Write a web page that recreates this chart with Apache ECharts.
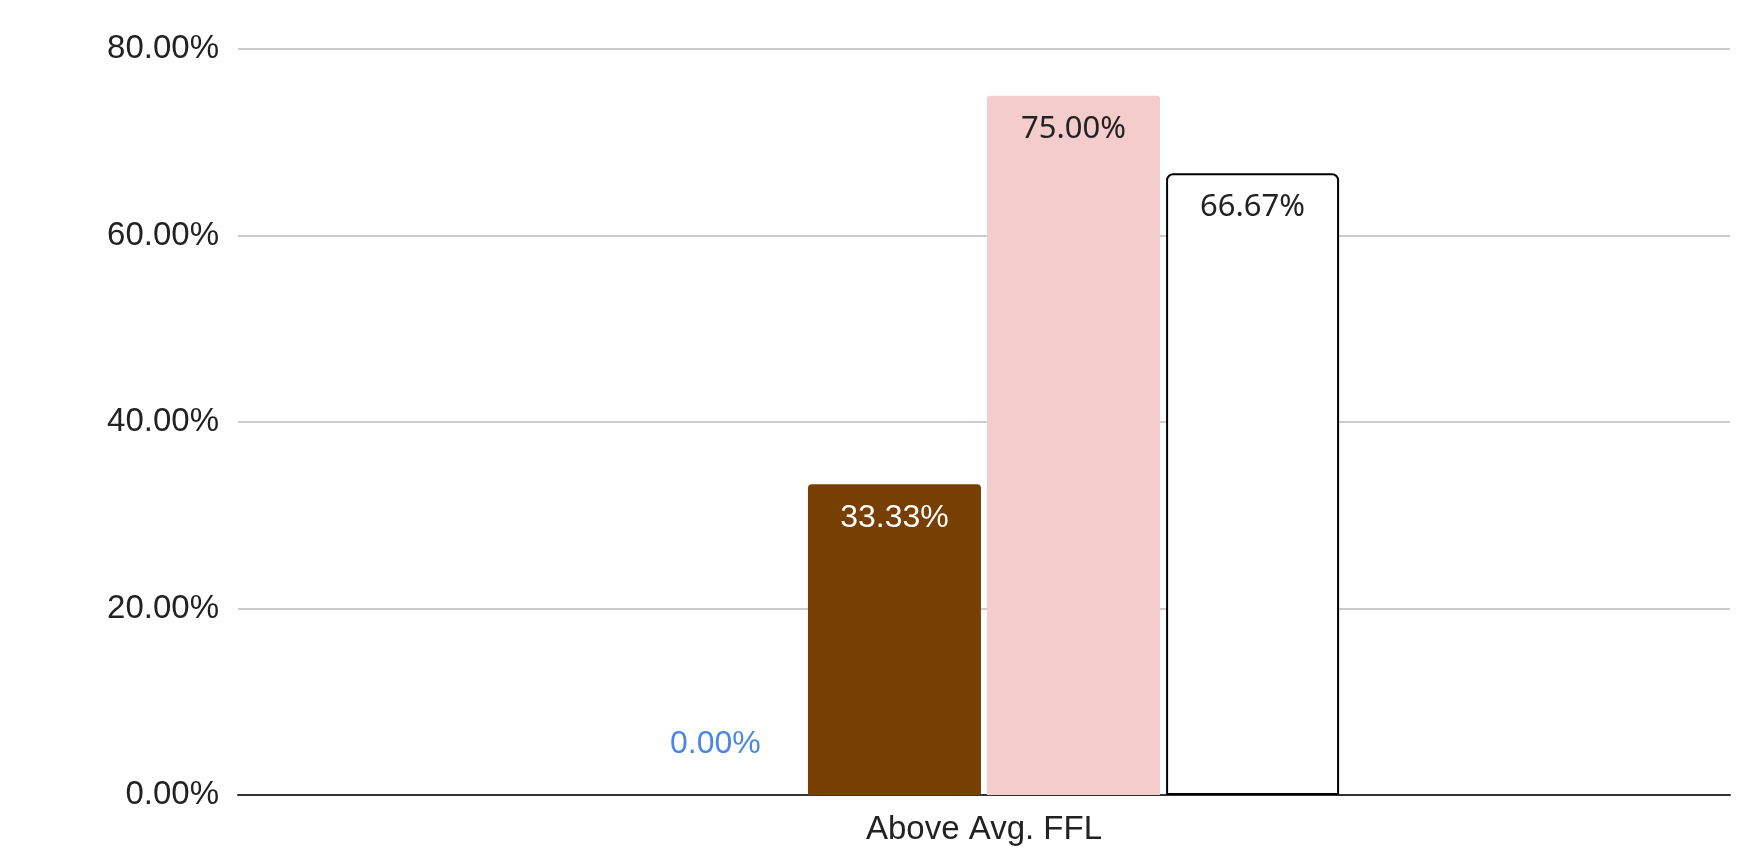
<!DOCTYPE html>
<html>
<head>
<meta charset="utf-8">
<title>Above Avg. FFL</title>
<script src="https://cdn.jsdelivr.net/npm/echarts@6/dist/echarts.min.js"></script>
<style>
  html, body { margin: 0; padding: 0; background: #ffffff; }
  #chart { width: 1762px; height: 850px; }
</style>
</head>
<body>
<div id="chart"></div>
<script>
// Single category, four groups compared side by side (values in percent)
const categories = ['Above Avg. FFL'];
const groupA = [0.00];
const groupB = [33.33];
const groupC = [75.00];
const groupD = [66.67];
const yTicks = [0, 20, 40, 60, 80];

const pct = v => Number(v).toFixed(2) + '%';
const sansA = '"Liberation Sans", Arial, sans-serif';
const sansB = '"Noto Sans", "Open Sans", sans-serif';

function labelInside(color, family, size) {
  return {
    show: true,
    position: 'insideTop',
    distance: 18,
    color: color,
    fontFamily: family,
    fontSize: size,
    formatter: p => pct(p.value)
  };
}

const chart = echarts.init(document.getElementById('chart'), null, { renderer: 'canvas' });

chart.setOption({
  backgroundColor: '#ffffff',
  animation: false,
  grid: { left: 238, right: 32, top: 49, bottom: 55, containLabel: false },
  xAxis: {
    type: 'category',
    data: categories,
    axisLine: { show: true, lineStyle: { color: '#333333', width: 2 } },
    axisTick: { show: false },
    axisLabel: { color: '#222222', fontFamily: sansA, fontSize: 33, margin: 18 }
  },
  yAxis: {
    type: 'value',
    min: yTicks[0],
    max: yTicks[yTicks.length - 1],
    interval: yTicks[1] - yTicks[0],
    axisLine: { show: false },
    axisTick: { show: false },
    splitLine: { lineStyle: { color: '#cccccc', width: 2 } },
    axisLabel: { color: '#222222', fontFamily: sansA, fontSize: 33, margin: 19, formatter: v => pct(v) }
  },
  series: [
    {
      name: 'A', type: 'bar', data: groupA, barWidth: 173, barGap: '3.5%',
      itemStyle: { color: '#4a86e8' },
      label: { show: true, position: 'top', distance: 35, color: '#4a86e8', fontFamily: sansA, fontSize: 32, formatter: p => pct(p.value) }
    },
    {
      name: 'B', type: 'bar', data: groupB, barWidth: 173, barGap: '3.5%',
      itemStyle: { color: '#783f04', borderRadius: [4, 4, 0, 0] },
      label: labelInside('#ffffff', sansA, 32)
    },
    {
      name: 'C', type: 'bar', data: groupC, barWidth: 173, barGap: '3.5%',
      itemStyle: { color: '#f4cccc', borderRadius: [3, 3, 0, 0] },
      label: labelInside('#222222', sansB, 31)
    },
    {
      name: 'D', type: 'bar', data: groupD, barWidth: 173, barGap: '3.5%',
      itemStyle: { color: '#ffffff', borderColor: '#000000', borderWidth: 2, borderRadius: [6, 6, 0, 0] },
      label: labelInside('#222222', sansB, 31)
    }
  ]
});
</script>
</body>
</html>
